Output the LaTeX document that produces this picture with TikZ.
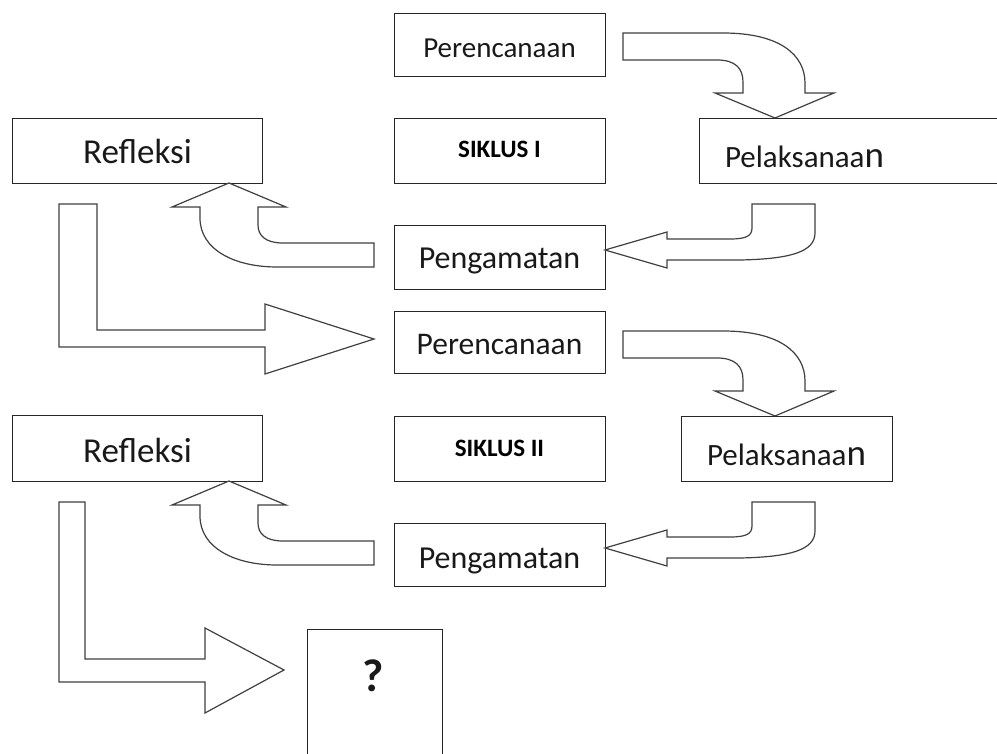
\documentclass[tikz,border=0pt]{standalone}
\usepackage{fontspec}
\setmainfont{Carlito}
\begin{document}
\begin{tikzpicture}[x=1pt,y=-1pt,
  box/.style={draw=black!85, line width=1.4pt, fill=white, inner sep=0pt, anchor=north west},
  lbl/.style={inner sep=0pt, anchor=base, text=black!90, font=\fontsize{29}{32}\selectfont},
  sik/.style={inner sep=0pt, anchor=base, text=black, font=\bfseries\fontsize{25}{28}\selectfont},
  barrow/.style={draw=black!75, line width=1.2pt, fill=white, line join=miter}]
\clip (0,0) rectangle (997,754);
\fill[white] (0,0) rectangle (997,754);

% ---------- Cycle I boxes ----------
\node[box, minimum width=211pt, minimum height=63pt] (p1) at (394,13) {};
\node[box, minimum width=211pt, minimum height=65pt] (s1) at (394,118) {};
\node[box, minimum width=211pt, minimum height=64pt] (g1) at (394,225) {};
\node[box, minimum width=305pt, minimum height=65pt] (l1) at (699,118) {};
\node[box, minimum width=250pt, minimum height=65pt] (r1) at (12,118) {};

\node[lbl] (p1t) at (499.5,58) {Perencanaan};
\node[sik] (s1t) at (499.5,158) {SIKLUS I};
\node[lbl, font=\fontsize{32}{34}\selectfont] (g1t) at (499.5,269) {Pengamatan};
\node[lbl, font=\fontsize{31}{34}\selectfont] (l1t) at (804.5,168) {Pelaksanaa{\fontsize{37}{37}\selectfont n}};
\node[lbl, font=\fontsize{35}{36}\selectfont] (r1t) at (137.5,164) {Refleksi};

% ---------- Cycle II boxes ----------
\node[box, minimum width=211pt, minimum height=62pt] (p2) at (394,311) {};
\node[box, minimum width=211pt, minimum height=65pt] (s2) at (394,416) {};
\node[box, minimum width=211pt, minimum height=63pt] (g2) at (394,523) {};
\node[box, minimum width=211pt, minimum height=65pt] (l2) at (681,416) {};
\node[box, minimum width=250pt, minimum height=66pt] (r2) at (12,415) {};
\node[box, minimum width=135pt, minimum height=140pt] (q) at (307,629) {};

\node[lbl, font=\fontsize{31.5}{34}\selectfont] (p2t) at (499.5,355) {Perencanaan};
\node[sik] (s2t) at (499.5,456) {SIKLUS II};
\node[lbl, font=\fontsize{32}{34}\selectfont] (g2t) at (499.5,568) {Pengamatan};
\node[lbl, font=\fontsize{31}{34}\selectfont] (l2t) at (786.5,465) {Pelaksanaa{\fontsize{37}{37}\selectfont n}};
\node[lbl, font=\fontsize{35}{36}\selectfont] (r2t) at (137.5,462) {Refleksi};
\node[lbl, font=\bfseries\fontsize{46}{48}\selectfont] (qt) at (373.5,691) {?};

% ---------- Block arrows ----------
\foreach \dy in {0,298} {
  \begin{scope}[yshift=-\dy pt]
  % Perencanaan -> Pelaksanaan
  \draw[barrow] (623,33) -- (723,33) .. controls (780,33) and (805,55) .. (805,83)
    -- (805,93) -- (834,93) -- (775,118) -- (715,93) -- (743,93) -- (743,82)
    .. controls (743,68) and (735,60) .. (717,60) -- (623,60) -- cycle;
  % Pelaksanaan -> Pengamatan
  \draw[barrow] (752,204) -- (815,204) -- (815,233)
    .. controls (815,252) and (790,259) .. (740,260) -- (667,260) -- (667,268)
    -- (605,250) -- (667,232) -- (667,239) -- (730,239)
    .. controls (746,239) and (752,236) .. (752,228) -- cycle;
  % Pengamatan -> Refleksi
  \draw[barrow] (374,243) -- (283,243) .. controls (266,243) and (258,236) .. (258,225)
    -- (258,207) -- (286,207) -- (229,183) -- (172,207) -- (200,207) -- (200,218)
    .. controls (200,250) and (235,267) .. (277,267) -- (374,267) -- cycle;
  \end{scope}
}
% Refleksi I -> Perencanaan II
\draw[barrow] (59,204) -- (97,204) -- (97,330) -- (265,330) -- (265,304)
  -- (374,339) -- (265,374) -- (265,347) -- (59,347) -- cycle;
% Refleksi II -> ?
\draw[barrow] (59,502) -- (85,502) -- (85,659) -- (205,659) -- (205,628)
  -- (284,670) -- (205,713) -- (205,682) -- (59,682) -- cycle;
\end{tikzpicture}
\end{document}
